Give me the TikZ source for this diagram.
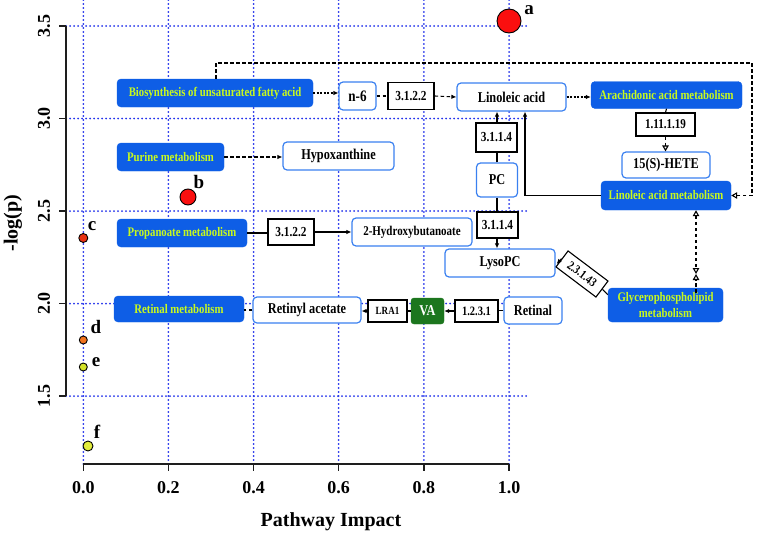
\documentclass[tikz,border=0pt]{standalone}
\usepackage{fontspec}
\setmainfont{Liberation Serif}[FakeStretch=0.82]
\newfontfamily\axf{Liberation Serif}
\usetikzlibrary{arrows.meta,calc}
\definecolor{bfill}{RGB}{14,94,230}
\definecolor{ytext}{RGB}{200,250,30}
\definecolor{wbord}{RGB}{58,128,240}
\definecolor{gridc}{RGB}{35,50,235}
\definecolor{vagreen}{RGB}{28,118,30}
\definecolor{ptred}{RGB}{250,15,15}
\definecolor{ptc}{RGB}{232,50,20}
\definecolor{ptd}{RGB}{240,115,30}
\definecolor{pte}{RGB}{212,226,40}
\definecolor{ptf}{RGB}{226,236,60}
\definecolor{axc}{RGB}{30,30,30}
\tikzset{
 bluebox/.style={fill=bfill, draw=bfill, rounded corners=4pt, text=ytext, font=\bfseries\fontsize{13.1}{16.5}\selectfont, inner sep=0pt, align=center},
 wbox/.style={fill=white, draw=wbord, line width=1.2pt, rounded corners=4pt, font=\bfseries\fontsize{15}{16}\selectfont, inner sep=0pt},
 ebox/.style={fill=white, draw=black, line width=1.1pt, font=\bfseries\fontsize{13.8}{15}\selectfont, inner sep=0pt},
 sz/.style 2 args={minimum width=#1pt, minimum height=#2pt},
 gridl/.style={draw=gridc, line width=2pt, line cap=round, dash pattern=on 0pt off 4pt},
 axl/.style={draw=axc, line width=1.5pt},
 conn/.style={line width=1.1pt, draw=black},
 dsh/.style={conn, dash pattern=on 3.5pt off 2.5pt},
 ddsh/.style={conn, dash pattern=on 2pt off 1.5pt},
 atip/.style={-{Latex[length=5pt,width=4.5pt]}},
 otip/.style={-{Triangle[open,length=6pt,width=6.5pt]}},
 dotpt/.style={circle, draw=black, line width=0.9pt, inner sep=0pt},
 plab/.style={font=\axf\bfseries\fontsize{19}{20}\selectfont, inner sep=0pt},
 ticklab/.style={font=\axf\bfseries\fontsize{18}{20}\selectfont, inner sep=0pt},
}
\begin{document}
\begin{tikzpicture}[x=1pt,y=-1pt]
\useasboundingbox (0,0) rectangle (759,535);
% grid
\foreach \i in {0,...,5} \draw[gridl] ({83.3+85.14*\i},0) -- ({83.3+85.14*\i},464);
\foreach \j in {0,...,4} \draw[gridl] (66,{26+92.5*\j}) -- (527,{26+92.5*\j});
% axes
\draw[axl] (66,26) -- (66,396);
\foreach \j in {0,...,4} \draw[axl] (59,{26+92.5*\j}) -- (66,{26+92.5*\j});
\draw[axl] (83.3,464) -- (509,464);
\foreach \i in {0,...,5} \draw[axl] ({83.3+85.14*\i},464) -- ({83.3+85.14*\i},471);
\foreach \v [count=\j from 0] in {3.5,3.0,2.5,2.0,1.5}
  \node[ticklab, rotate=90] (yt\j) at (44,{26+92.5*\j}) {\v};
\foreach \v [count=\i from 0] in {0.0,0.2,0.4,0.6,0.8,1.0}
  \node[ticklab] (xt\i) at ({83.3+85.14*\i},488) {\v};
\node[plab, font=\axf\bfseries\fontsize{20}{22}\selectfont] (xlab) at (331,522) {Pathway Impact};
\node[plab, font=\axf\bfseries\fontsize{20}{22}\selectfont, rotate=90] (ylab) at (13,223) {-log(p)};
% points
\node[dotpt, fill=ptred, minimum size=24pt] (pa) at (509,21) {};
\node[dotpt, fill=ptred, minimum size=16pt] (pb) at (188,197) {};
\node[dotpt, fill=ptc, minimum size=9pt] (pc) at (83.3,238) {};
\node[dotpt, fill=ptd, minimum size=8pt] (pd) at (83.3,340) {};
\node[dotpt, fill=pte, minimum size=8pt] (pe) at (83.3,367) {};
\node[dotpt, fill=ptf, minimum size=10pt] (pf) at (88,446) {};
\node[plab] (la) at (529,10) {a};
\node[plab] (lb) at (199,182) {b};
\node[plab] (lc) at (92,226) {c};
\node[plab] (ld) at (96,327) {d};
\node[plab] (le) at (96,362) {e};
\node[plab] (lf) at (97,432) {f};
% boxes
\node[bluebox, sz={196}{28}] (bio) at (215,93) {Biosynthesis of unsaturated fatty acid};
\node[wbox, sz={37}{28}, font=\bfseries\fontsize{16}{17}\selectfont] (n6) at (357.5,96) {n-6};
\node[ebox, sz={46}{27}] (e1) at (411,96) {3.1.2.2};
\node[wbox, sz={109}{28}] (lin) at (511.5,97) {Linoleic acid};
\node[bluebox, sz={151}{27}] (ara) at (666.5,95) {Arachidonic acid metabolism};
\node[ebox, sz={59}{23}, font=\bfseries\fontsize{13.5}{15}\selectfont] (e3) at (665.5,124.5) {1.11.1.19};
\node[wbox, sz={88}{26}] (hete) at (666,165) {15(S)-HETE};
\node[bluebox, sz={130}{29}] (lam) at (666,195.5) {Linoleic acid metabolism};
\node[bluebox, sz={107}{28}] (pur) at (170.5,157) {Purine metabolism};
\node[wbox, sz={111}{28}] (hyp) at (338.5,156) {Hypoxanthine};
\node[ebox, sz={41}{29}] (e4) at (496.5,137.5) {3.1.1.4};
\node[wbox, sz={41}{34}] (pcn) at (497,180) {PC};
\node[ebox, sz={41}{26}] (e5) at (497.5,225) {3.1.1.4};
\node[wbox, sz={110}{28}] (lyso) at (500,263) {LysoPC};
\node[ebox, sz={50}{20}, rotate=-37, font=\bfseries\fontsize{12.5}{13}\selectfont] (e6) at (582,274) {2.3.1.43};
\node[bluebox, sz={115}{34}] (gp) at (665.5,305) {Glycerophospholipid\\metabolism};
\node[bluebox, sz={130}{28}] (pro) at (182,233) {Propanoate metabolism};
\node[ebox, sz={46}{26}] (e7) at (291,232) {3.1.2.2};
\node[wbox, sz={120}{28}, font=\bfseries\fontsize{13.4}{15}\selectfont] (hyd) at (412,232) {2-Hydroxybutanoate};
\node[bluebox, sz={130}{26}] (ret) at (179,309) {Retinal metabolism};
\node[wbox, sz={108}{26}] (ra) at (307,310) {Retinyl acetate};
\node[ebox, sz={39}{22}, font=\bfseries\fontsize{11}{12}\selectfont] (lra) at (387.5,311) {LRA1};
\node[fill=vagreen, draw=vagreen, rounded corners=3pt, inner sep=0pt, sz={33}{26}, text=white, font=\bfseries\fontsize{15}{16}\selectfont] (va) at (427.5,311) {VA};
\node[ebox, sz={43}{22}, font=\bfseries\fontsize{12.8}{14}\selectfont] (e8) at (476.5,311) {1.2.3.1};
\node[wbox, sz={58}{27}] (rtl) at (533,310.5) {Retinal};
% connectors
\draw[ddsh, atip] (bio.east) -- (bio.east -| n6.west);
\draw[dsh] (n6.east) -- (e1.west);
\draw[dsh, atip] (e1.east) -- (lin.west);
\draw[ddsh, atip] (lin.east) -- (lin.east -| ara.west);
\draw[conn] (ara.south) -- (e3.north);
\draw[dsh, otip] (e3.south) -- (e3.south |- hete.north);
\coordinate (lp1) at (216,63);
\coordinate (lp2) at (752,63);
\draw[dsh, otip] (lp1 |- bio.north) -- (lp1) -- (lp2) -- (lp2 |- lam.east) -- (lam.east);
\coordinate (k1) at (525,0);
\draw[conn, atip] (lam.west) -| (k1 |- lin.south);
\draw[conn] (pcn.north) -- (e4.south -| pcn.north);
\draw[conn, atip] (e4.north -| pcn.north) -- (lin.south -| pcn.north);
\draw[conn] (pcn.south) -- (e5.north -| pcn.south);
\draw[conn, atip] (e5.south -| pcn.south) -- (lyso.north -| pcn.south);
\draw[conn] ($(gp.north west)!0.2!(gp.south west)$) -- (e6.east);
\draw[conn, atip] (e6.west) -- ($(lyso.east)+(1,1)$);
\coordinate (hg) at (696,274);
\draw[dsh, {Triangle[open,length=6pt,width=6.5pt]}-{Triangle[open,length=6pt,width=6.5pt]}] (hg |- lam.south) -- (hg);
\draw[dsh, otip] ($(hg |- gp.north)+(0,5)$) -- (hg);
\draw[dsh, atip] (pur.east) -- (pur.east -| hyp.west);
\draw[conn] (pro.east) -- (pro.east -| e7.west);
\draw[conn, atip] (e7.east) -- (e7.east -| hyd.west);
\draw[conn] (rtl.west) -- (rtl.west -| e8.east);
\draw[conn, atip] (e8.west) -- (e8.west -| va.east);
\draw[conn] (va.west) -- (va.west -| lra.east);
\draw[conn, atip] (lra.west) -- (lra.west -| ra.east);
\draw[dsh] (ra.west) -- (ra.west -| ret.east);
\end{tikzpicture}
\end{document}
